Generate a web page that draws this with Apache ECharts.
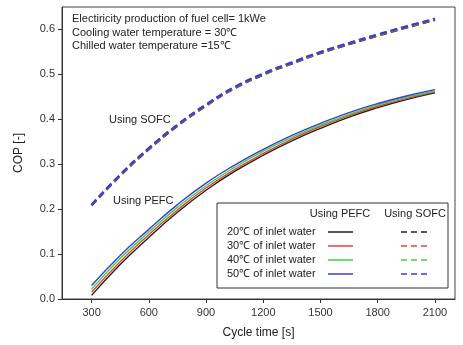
<!DOCTYPE html>
<html><head><meta charset="utf-8">
<script src="https://cdn.jsdelivr.net/npm/echarts@6/dist/echarts.min.js"></script>
<style>html,body{margin:0;padding:0;background:#fff}#c{width:463px;height:345px}</style>
</head><body><div id="c"></div>
<script>
var cycleTime = [300,450,600,750,900,1050,1200,1350,1500,1650,1800,1950,2100];
var xTicks = [300,600,900,1200,1500,1800,2100];
var yTicks = [0,0.1,0.2,0.3,0.4,0.5,0.6];
var pefc20 = [0.008,0.077,0.137,0.193,0.242,0.284,0.320,0.352,0.380,0.405,0.426,0.444,0.459];
var pefc30 = [0.015,0.083,0.143,0.198,0.247,0.288,0.324,0.356,0.384,0.408,0.429,0.446,0.461];
var pefc40 = [0.022,0.090,0.149,0.204,0.252,0.293,0.329,0.360,0.387,0.411,0.432,0.449,0.463];
var pefc50 = [0.030,0.097,0.155,0.210,0.258,0.298,0.333,0.364,0.391,0.415,0.435,0.452,0.466];
var sofc20 = [0.208,0.274,0.333,0.385,0.430,0.469,0.499,0.524,0.547,0.567,0.586,0.604,0.621];
var sofc30 = [0.209,0.275,0.334,0.386,0.431,0.470,0.500,0.525,0.548,0.568,0.587,0.605,0.622];
var sofc40 = [0.209,0.276,0.335,0.387,0.432,0.471,0.501,0.526,0.549,0.569,0.588,0.606,0.623];
var sofc50 = [0.210,0.277,0.336,0.388,0.433,0.472,0.502,0.527,0.550,0.570,0.589,0.607,0.624];
var tempLabels = ['20\u2103 of inlet water','30\u2103 of inlet water','40\u2103 of inlet water','50\u2103 of inlet water'];
var colors = ['#222222','#e8403a','#39d639','#3a3ae8'];

function pairs(v){ return cycleTime.map(function(x,i){return [x,v[i]];}); }
var F = 'Liberation Sans, Arial, sans-serif';
var series = [];
[pefc20,pefc30,pefc40,pefc50].forEach(function(v,i){
  series.push({type:'line',data:pairs(v),smooth:true,showSymbol:false,lineStyle:{color:colors[i],width:1.4},z:2+i});
});
var sofcColors = ['#3a2a20','#b0503a','#4a8a3a','#3a3ae8'];
[sofc20,sofc30,sofc40,sofc50].forEach(function(v,i){
  series.push({type:'line',data:pairs(v),smooth:true,showSymbol:false,lineStyle:{color:sofcColors[i],width:2.2,type:[7,4],dashOffset:0},z:2+i});
});

var chart = echarts.init(document.getElementById('c'),null,{renderer:'canvas'});
var legendG = [
  {type:'rect',shape:{x:217,y:203,width:231,height:85},style:{fill:'#fff',stroke:'#333',lineWidth:1},z:10},
  {type:'text',x:340,y:214,style:{text:'Using PEFC',font:'11px '+F,fill:'#222',align:'center',verticalAlign:'middle'},z:11},
  {type:'text',x:415,y:214,style:{text:'Using SOFC',font:'11px '+F,fill:'#222',align:'center',verticalAlign:'middle'},z:11}
];
tempLabels.forEach(function(t,i){
  var y = 232 + i*14;
  legendG.push({type:'text',x:227,y:y,style:{text:t,font:'11px '+F,fill:'#222',align:'left',verticalAlign:'middle'},z:11});
  legendG.push({type:'line',shape:{x1:328,y1:y,x2:353,y2:y},style:{stroke:colors[i],lineWidth:1.5},z:11});
  legendG.push({type:'line',shape:{x1:401,y1:y,x2:430,y2:y},style:{stroke:colors[i],lineWidth:1.5,lineDash:[6,4]},z:11});
});
var annot = [
  {type:'text',x:72,y:19,style:{text:'Electiricity production of fuel cell= 1kWe',font:'11px '+F,fill:'#222',verticalAlign:'middle'},z:11},
  {type:'text',x:72,y:33,style:{text:'Cooling water temperature = 30\u2103',font:'11px '+F,fill:'#222',verticalAlign:'middle'},z:11},
  {type:'text',x:72,y:46,style:{text:'Chilled water temperature =15\u2103',font:'11px '+F,fill:'#222',verticalAlign:'middle'},z:11},
  {type:'text',x:109,y:120,style:{text:'Using SOFC',font:'11px '+F,fill:'#222',verticalAlign:'middle'},z:11},
  {type:'text',x:113,y:201,style:{text:'Using PEFC',font:'11px '+F,fill:'#222',verticalAlign:'middle'},z:11}
];
chart.setOption({
  animation:false,
  grid:{left:62,right:8,top:7,bottom:46,show:true,borderColor:'#444',borderWidth:1,containLabel:false},
  xAxis:{type:'value',min:145,max:2205,name:'Cycle time [s]',nameLocation:'middle',nameGap:28,
    nameTextStyle:{fontFamily:F,fontSize:12,color:'#222'},
    axisLine:{lineStyle:{color:'#333'}},
    axisTick:{inside:false,length:4,customValues:xTicks,lineStyle:{color:'#333'}},
    axisLabel:{customValues:xTicks,fontFamily:F,fontSize:11,color:'#333',margin:8,formatter:function(v){return String(v);}},
    splitLine:{show:false}},
  yAxis:{type:'value',min:0,max:0.65,name:'COP [-]',nameLocation:'middle',nameGap:37,
    nameTextStyle:{fontFamily:F,fontSize:12,color:'#222'},
    axisLine:{show:true,lineStyle:{color:'#333'}},
    axisTick:{show:true,length:4,customValues:yTicks,lineStyle:{color:'#333'}},
    axisLabel:{customValues:yTicks,fontFamily:F,fontSize:11,color:'#333',margin:7,formatter:function(v){return v.toFixed(1);}},
    splitLine:{show:false}},
  series:series,
  graphic:annot.concat(legendG)
});
</script></body></html>
